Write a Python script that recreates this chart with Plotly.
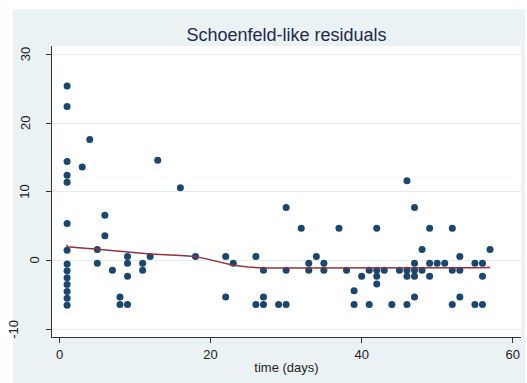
import plotly.graph_objects as go

# ---- data ----
time_days = [1] * 14 + [
    3, 4, 5, 5, 6, 6, 7, 8, 8, 9, 9, 9, 9, 11, 11, 12, 13, 16, 18,
    22, 22, 23, 26, 26, 27, 27, 27, 29, 30, 30, 30, 32, 33, 33, 34, 35, 35,
    37, 38, 39, 39, 40, 41, 41, 42, 42, 42, 42, 43, 44, 45,
    46, 46, 46, 46, 47, 47, 47, 47, 47, 48, 48, 49, 49, 49, 50, 51,
    52, 52, 52, 53, 53, 53, 55, 55, 56, 56, 56, 57,
]
residuals = [
    25.4, 22.4, 14.4, 12.4, 11.4, 5.4, 1.5, -0.5, -1.5, -2.5, -3.5, -4.5, -5.5, -6.5,
    13.6, 17.6, 1.6, -0.4, 6.6, 3.6, -1.4, -5.3, -6.4, 0.6, -0.4, -2.3, -6.4,
    -0.4, -1.4, 0.6, 14.6, 10.6, 0.6,
    0.6, -5.3, -0.4, 0.6, -6.4, -1.4, -5.3, -6.4, -6.4, 7.7, -1.4, -6.4, 4.7,
    -0.4, -1.4, 0.6, -0.4, -1.4,
    4.7, -1.4, -4.4, -6.4, -2.3, -1.4, -6.4, 4.7, -1.4, -2.3, -3.4, -1.4, -6.4, -1.4,
    11.6, -1.4, -2.3, -6.4, 7.7, -0.4, -1.4, -2.3, -5.3, 1.6, -1.4, 4.7, -0.4, -2.3,
    -0.4, -0.4,
    4.7, -1.4, -6.4, 0.6, -1.4, -5.3, -0.4, -6.4, -0.4, -2.3, -6.4, 1.6,
]
smooth_time = [1, 1, 5, 9, 12, 16, 18, 19, 21, 23, 25, 26, 27, 30, 35, 40, 45, 50, 55, 57]
smooth_resid = [2.3, 2.0, 1.65, 1.3, 0.95, 0.75, 0.6, 0.35, -0.2, -0.7, -0.95, -1.07,
                -1.1, -1.1, -1.1, -1.15, -1.15, -1.1, -1.05, -1.0]

x_ticks = [0, 20, 40, 60]
y_ticks = [-10, 0, 10, 20, 30]
y_tick_labels = ["-10", "0", "10", "20", "30"]
title_text = "Schoenfeld-like residuals"
x_title = "time (days)"

# ---- layout constants ----
W, H = 527, 383
L, R, T, B = 52, 6, 46, 46
PW, PH = W - L - R, H - T - B
BG = "#EAF2F3"
FONT = "Liberation Sans, Arial, sans-serif"


def px_x(p):
    return (p - L) / PW


def px_y(p):
    return (H - B - p) / PH


fig = go.Figure()
fig.add_trace(go.Scatter(
    x=time_days, y=residuals, mode="markers",
    marker=dict(color="#1A476F", size=7, line=dict(width=0)),
    showlegend=False, hoverinfo="skip"))
fig.add_trace(go.Scatter(
    x=smooth_time, y=smooth_resid, mode="lines",
    line=dict(color="#90353B", width=1.5),
    showlegend=False, hoverinfo="skip"))

shapes = [
    # white strips around the graph region
    dict(type="rect", xref="paper", yref="paper", x0=px_x(0), x1=px_x(W), y0=px_y(9), y1=px_y(0),
         fillcolor="white", line=dict(width=0), layer="below"),
    dict(type="rect", xref="paper", yref="paper", x0=px_x(0), x1=px_x(12.7), y0=px_y(H), y1=px_y(0),
         fillcolor="white", line=dict(width=0), layer="below"),
    dict(type="rect", xref="paper", yref="paper", x0=px_x(525), x1=px_x(W), y0=px_y(H), y1=px_y(0),
         fillcolor="white", line=dict(width=0), layer="below"),
]

# rotated y-axis tick labels (placed on the y scale, like Stata draws them)
annotations = []
for val, lab in zip(y_ticks, y_tick_labels):
    cx = 45 - 10 * len(lab) + (1.5 if len(lab) == 3 else 0) - (3 if len(lab) == 3 else 0)
    annotations.append(dict(
        x=px_x(cx), xref="paper", y=val, yref="y", text=lab, showarrow=False,
        textangle=-90, xanchor="center", yanchor="middle",
        font=dict(family=FONT, size=13, color="#222222")))

fig.update_layout(
    width=W, height=H,
    margin=dict(l=L, r=R, t=T, b=B, pad=0),
    paper_bgcolor=BG, plot_bgcolor="white",
    font=dict(family=FONT, color="#222222", size=13),
    title=dict(text=title_text, x=(L + PW / 2) / W, xanchor="center",
               y=1 - 34.6 / H, yanchor="middle",
               font=dict(family=FONT, size=18, color="#1E2B4A")),
    shapes=shapes,
    annotations=annotations,
    xaxis=dict(range=[-1.0, 61.1], tickvals=x_ticks, ticks="outside", ticklen=5,
               tickwidth=1, tickcolor="#333333", showline=True, linecolor="#333333",
               linewidth=1, showgrid=False, zeroline=False,
               tickfont=dict(size=13, color="#222222"),
               title=dict(text=x_title, font=dict(size=13, color="#222222"), standoff=2)),
    yaxis=dict(range=[-11.12, 31.2], tickvals=y_ticks, showticklabels=False,
               ticks="outside", ticklen=5, tickwidth=1,
               tickcolor="#333333", showline=True, linecolor="#333333", linewidth=1,
               showgrid=True, gridcolor="#E3ECEE", gridwidth=1, zeroline=False),
)

fig.write_html("out.html")
